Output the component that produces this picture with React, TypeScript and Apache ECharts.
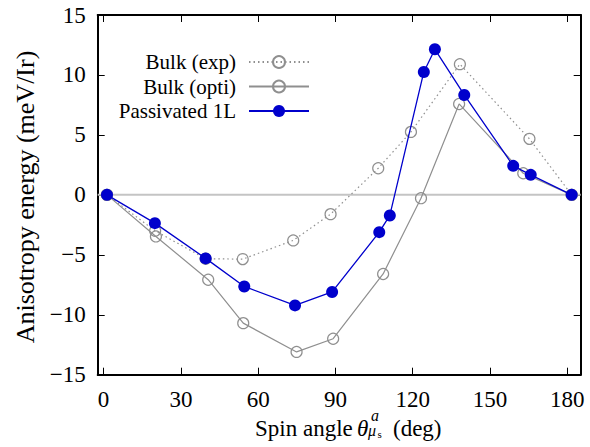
import React, { useEffect, useRef } from "react";
import * as echarts from "echarts";

const FONT = "Liberation Serif, DejaVu Serif, serif";

const xTickValues = [0, 30, 60, 90, 120, 150, 180];

const seriesNames = ["Bulk (exp)", "Bulk (opti)", "Passivated 1L"];

const expAngles = [1.3, 20.0, 39.6, 54.0, 73.6, 88.1, 106.6, 119.3, 138.3, 165.3, 181.7];
const expEnergy = [0, -3.0, -5.33, -5.36, -3.8, -1.61, 2.22, 5.25, 10.9, 4.67, 0];

const optiAngles = [1.3, 20.3, 40.6, 54.2, 74.9, 89.1, 108.5, 123.2, 138.0, 162.9, 181.7];
const optiEnergy = [0, -3.47, -7.08, -10.7, -13.1, -12.0, -6.6, -0.28, 7.58, 1.8, 0];

const passAngles = [1.3, 19.9, 39.6, 54.6, 74.3, 88.7, 107.0, 111.1, 124.3, 128.6, 140.0, 159.0, 165.8, 181.7];
const passEnergy = [0, -2.36, -5.3, -7.64, -9.22, -8.1, -3.11, -1.72, 10.25, 12.14, 8.33, 2.42, 1.67, 0];

const X_MIN = -2.3;
const X_MAX = 185.2;

const zip = (xs: number[], ys: number[]) => xs.map((x, i) => [x, ys[i]]);

export default function App() {
  const ref = useRef<HTMLDivElement>(null);
  useEffect(() => {
    const chart = echarts.init(ref.current!, null, { renderer: "svg" });
    const gray = "#8f8f8f";
    const blue = "#0000cc";
    const axisCommon = {
      type: "value",
      splitLine: { show: false },
      axisLine: { show: true, onZero: false, lineStyle: { color: "#000", width: 2 } },
      axisTick: { show: true, inside: true, length: 7, lineStyle: { color: "#000", width: 1 } },
    };
    chart.setOption({
      animation: false,
      backgroundColor: "#fff",
      textStyle: { fontFamily: FONT },
      grid: { left: 97.7, right: 9.3, top: 15, bottom: 72.3, containLabel: false },
      xAxis: [
        {
          ...axisCommon,
          position: "bottom",
          min: X_MIN,
          max: X_MAX,
          axisTick: { ...axisCommon.axisTick, customValues: xTickValues },
          axisLabel: {
            customValues: xTickValues,
            margin: 13,
            color: "#000",
            fontFamily: FONT,
            fontSize: 23,
          },
        },
        {
          ...axisCommon,
          position: "top",
          min: X_MIN,
          max: X_MAX,
          axisTick: { ...axisCommon.axisTick, customValues: xTickValues },
          axisLabel: { show: false },
        },
      ],
      yAxis: [
        {
          ...axisCommon,
          position: "left",
          min: -15,
          max: 15,
          interval: 5,
          axisLabel: {
            margin: 12,
            color: "#000",
            fontFamily: FONT,
            fontSize: 23,
            formatter: (v: number) => String(v).replace("-", "\u2212"),
          },
        },
        {
          ...axisCommon,
          position: "right",
          min: -15,
          max: 15,
          interval: 5,
          axisLabel: { show: false },
        },
      ],
      legend: {
        data: seriesNames,
        orient: "vertical",
        align: "right",
        right: 275,
        top: 46,
        itemWidth: 60,
        itemHeight: 15,
        itemGap: 2.5,
        textStyle: {
          fontFamily: FONT,
          fontSize: 21,
          color: "#000",
          lineHeight: 22,
          padding: [0, 8, 0, 0],
        },
      },
      series: [
        {
          name: "zero",
          type: "line",
          data: [
            [X_MIN, 0],
            [X_MAX, 0],
          ],
          symbol: "none",
          lineStyle: { color: "#c4c4c4", width: 2 },
          silent: true,
          z: 1,
        },
        {
          name: seriesNames[0],
          type: "line",
          data: zip(expAngles, expEnergy),
          symbol: "circle",
          symbolSize: 11,
          showAllSymbol: true,
          lineStyle: { color: gray, width: 1.2, type: [1.5, 3] },
          itemStyle: { color: "rgba(255,255,255,0)", borderColor: gray, borderWidth: 1.2 },
          z: 2,
        },
        {
          name: seriesNames[1],
          type: "line",
          data: zip(optiAngles, optiEnergy),
          symbol: "circle",
          symbolSize: 11,
          showAllSymbol: true,
          lineStyle: { color: gray, width: 1.2 },
          itemStyle: { color: "rgba(255,255,255,0)", borderColor: gray, borderWidth: 1.2 },
          z: 3,
        },
        {
          name: seriesNames[2],
          type: "line",
          data: zip(passAngles, passEnergy),
          symbol: "circle",
          symbolSize: 12,
          showAllSymbol: true,
          lineStyle: { color: blue, width: 1.3 },
          itemStyle: { color: blue, borderColor: blue, borderWidth: 0 },
          z: 4,
        },
      ],
      graphic: [
        {
          type: "text",
          x: 25,
          y: 197,
          rotation: Math.PI / 2,
          style: {
            text: "Anisotropy energy (meV/Ir)",
            fontFamily: FONT,
            fontSize: 26,
            fill: "#000",
            textAlign: "center",
            textVerticalAlign: "middle",
          },
        },
        {
          type: "group",
          children: [
            {
              type: "text",
              x: 255,
              y: 428,
              style: { text: "Spin angle", fontFamily: FONT, fontSize: 23, fill: "#000", textAlign: "left", textVerticalAlign: "middle" },
            },
            {
              type: "text",
              x: 357,
              y: 428,
              style: { text: "θ", fontFamily: FONT, fontSize: 23, fontStyle: "italic", fill: "#000", textAlign: "left", textVerticalAlign: "middle" },
            },
            {
              type: "text",
              x: 371,
              y: 415,
              style: { text: "a", fontFamily: FONT, fontSize: 16, fontStyle: "italic", fill: "#000", textAlign: "left", textVerticalAlign: "middle" },
            },
            {
              type: "text",
              x: 368,
              y: 430,
              style: { text: "μ", fontFamily: FONT, fontSize: 16, fontStyle: "italic", fill: "#000", textAlign: "left", textVerticalAlign: "middle" },
            },
            {
              type: "text",
              x: 377.5,
              y: 434,
              style: { text: "s", fontFamily: FONT, fontSize: 11, fill: "#000", textAlign: "left", textVerticalAlign: "middle" },
            },
            {
              type: "text",
              x: 393,
              y: 428,
              style: { text: "(deg)", fontFamily: FONT, fontSize: 23, fill: "#000", textAlign: "left", textVerticalAlign: "middle" },
            },
          ],
        },
      ],
    });
    return () => chart.dispose();
  }, []);
  return <div ref={ref} style={{ position: "fixed", left: 0, top: 0, width: 590, height: 447 }} />;
}
